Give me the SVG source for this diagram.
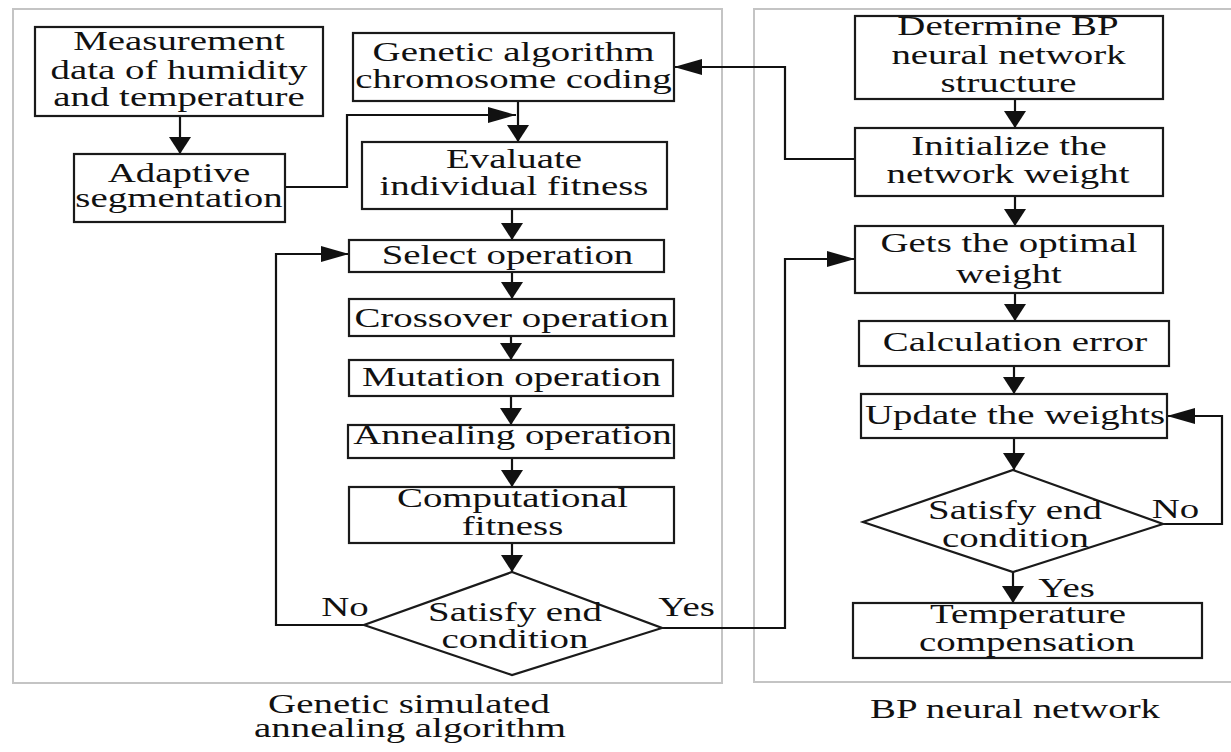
<svg xmlns="http://www.w3.org/2000/svg" width="1231" height="752" viewBox="0 0 1231 752">
<style>
.panel{fill:none;stroke:#c4c4c4;stroke-width:2}
.box{fill:#fff;stroke:#1a1a1a;stroke-width:2.2}
.con{fill:none;stroke:#111;stroke-width:2.2}
.t{font-family:"Liberation Serif","Times New Roman",serif;font-size:27px;fill:#111;text-anchor:middle}
</style>
<defs>
<marker id="av" markerUnits="userSpaceOnUse" markerWidth="18" markerHeight="24" refX="17" refY="11" orient="auto">
<path d="M0,0 L17,11 L0,22 z" fill="#111"/>
</marker>
<marker id="ah" markerUnits="userSpaceOnUse" markerWidth="30" markerHeight="18" refX="28" refY="8" orient="auto">
<path d="M0,0 L28,8 L0,16 z" fill="#111"/>
</marker>
</defs>
<rect fill="#fff" x="0" y="0" width="1231" height="752"/>
<rect class="panel" x="13" y="9" width="709" height="674"/>
<rect class="panel" x="754" y="9" width="500" height="673"/>

<g id="connectors">
<path class="con" d="M180,116 V154" marker-end="url(#av)"/>
<path class="con" d="M285,187 H347 V115 H516" marker-end="url(#ah)"/>
<path class="con" d="M518,101 V142" marker-end="url(#av)"/>
<path class="con" d="M512,209 V240" marker-end="url(#av)"/>
<path class="con" d="M512,272 V299" marker-end="url(#av)"/>
<path class="con" d="M511,336 V360" marker-end="url(#av)"/>
<path class="con" d="M511,396 V425" marker-end="url(#av)"/>
<path class="con" d="M512,458 V487" marker-end="url(#av)"/>
<path class="con" d="M512,543 V572" marker-end="url(#av)"/>
<path class="con" d="M364,625 H276 V254 H349" marker-end="url(#ah)"/>
<path class="con" d="M662,628 H785 V259 H855" marker-end="url(#ah)"/>
<path class="con" d="M1015,99 V128" marker-end="url(#av)"/>
<path class="con" d="M855,159 H785 V67 H674" marker-end="url(#ah)"/>
<path class="con" d="M1015,196 V226" marker-end="url(#av)"/>
<path class="con" d="M1015,293 V321" marker-end="url(#av)"/>
<path class="con" d="M1014,366 V394" marker-end="url(#av)"/>
<path class="con" d="M1014,438 V470" marker-end="url(#av)"/>
<path class="con" d="M1163,524 H1222 V416 H1167" marker-end="url(#ah)"/>
<path class="con" d="M1013,572 V603" marker-end="url(#av)"/>
</g>

<g id="measurement">
<rect class="box" x="35" y="27" width="288" height="89"/>
<text class="t" transform="translate(179,50) scale(1.44,1)">Measurement</text>
<text class="t" transform="translate(179,79) scale(1.44,1)">data of humidity</text>
<text class="t" transform="translate(179,106) scale(1.44,1)">and temperature</text>
</g>
<g id="adaptive">
<rect class="box" x="74" y="154" width="211" height="68"/>
<text class="t" transform="translate(179,182) scale(1.44,1)">Adaptive</text>
<text class="t" transform="translate(179,207) scale(1.44,1)">segmentation</text>
</g>
<g id="chromosome">
<rect class="box" x="353" y="33" width="321" height="68"/>
<text class="t" transform="translate(513.5,61) scale(1.44,1)">Genetic algorithm</text>
<text class="t" transform="translate(513.5,88) scale(1.44,1)">chromosome coding</text>
</g>
<g id="evaluate">
<rect class="box" x="362" y="142" width="305" height="67"/>
<text class="t" transform="translate(514,168) scale(1.44,1)">Evaluate</text>
<text class="t" transform="translate(514,195) scale(1.44,1)">individual fitness</text>
</g>
<g id="select">
<rect class="box" x="349" y="240" width="315" height="32"/>
<text class="t" transform="translate(507.5,264) scale(1.44,1)">Select operation</text>
</g>
<g id="crossover">
<rect class="box" x="349" y="299" width="325" height="37"/>
<text class="t" transform="translate(511.5,327) scale(1.44,1)">Crossover operation</text>
</g>
<g id="mutation">
<rect class="box" x="349" y="360" width="324" height="36"/>
<text class="t" transform="translate(511.5,386) scale(1.44,1)">Mutation operation</text>
</g>
<g id="annealing">
<rect class="box" x="348" y="425" width="326" height="33"/>
<text class="t" transform="translate(512.5,444) scale(1.44,1)">Annealing operation</text>
</g>
<g id="computational">
<rect class="box" x="349" y="487" width="325" height="56"/>
<text class="t" transform="translate(512.5,507) scale(1.44,1)">Computational</text>
<text class="t" transform="translate(512.5,535) scale(1.44,1)">fitness</text>
</g>
<g id="decision1">
<polygon class="box" points="512,572 662,628 512,675 364,625"/>
<text class="t" transform="translate(515,621) scale(1.44,1)">Satisfy end</text>
<text class="t" transform="translate(515,648) scale(1.44,1)">condition</text>
<text class="t" transform="translate(345,616) scale(1.44,1)">No</text>
<text class="t" transform="translate(686.5,616) scale(1.44,1)">Yes</text>
</g>

<g id="determine">
<rect class="box" x="855" y="16" width="308" height="83"/>
<text class="t" transform="translate(1008,35) scale(1.44,1)">Determine BP</text>
<text class="t" transform="translate(1008.5,64) scale(1.44,1)">neural network</text>
<text class="t" transform="translate(1008.5,92) scale(1.44,1)">structure</text>
</g>
<g id="initialize">
<rect class="box" x="855" y="128" width="308" height="68"/>
<text class="t" transform="translate(1009,155) scale(1.44,1)">Initialize the</text>
<text class="t" transform="translate(1008,183) scale(1.44,1)">network weight</text>
</g>
<g id="optimal">
<rect class="box" x="855" y="226" width="308" height="67"/>
<text class="t" transform="translate(1009,252) scale(1.44,1)">Gets the optimal</text>
<text class="t" transform="translate(1009,283) scale(1.44,1)">weight</text>
</g>
<g id="calculation">
<rect class="box" x="859" y="321" width="310" height="45"/>
<text class="t" transform="translate(1015,351) scale(1.44,1)">Calculation error</text>
</g>
<g id="update">
<rect class="box" x="861" y="394" width="306" height="44"/>
<text class="t" transform="translate(1015,424) scale(1.44,1)">Update the weights</text>
</g>
<g id="decision2">
<polygon class="box" points="1013,470 1163,524 1013,572 863,522"/>
<text class="t" transform="translate(1015,519) scale(1.44,1)">Satisfy end</text>
<text class="t" transform="translate(1015.5,547) scale(1.44,1)">condition</text>
<text class="t" transform="translate(1175.5,518) scale(1.44,1)">No</text>
<text class="t" transform="translate(1066.5,597) scale(1.44,1)">Yes</text>
</g>
<g id="temperature">
<rect class="box" x="853" y="603" width="349" height="55"/>
<text class="t" transform="translate(1028,623) scale(1.44,1)">Temperature</text>
<text class="t" transform="translate(1027,651) scale(1.44,1)">compensation</text>
</g>

<g id="labels">
<text class="t" transform="translate(409,713) scale(1.44,1)">Genetic simulated</text>
<text class="t" transform="translate(410,737) scale(1.44,1)">annealing algorithm</text>
<text class="t" transform="translate(1015,718) scale(1.44,1)">BP neural network</text>
</g>
</svg>
